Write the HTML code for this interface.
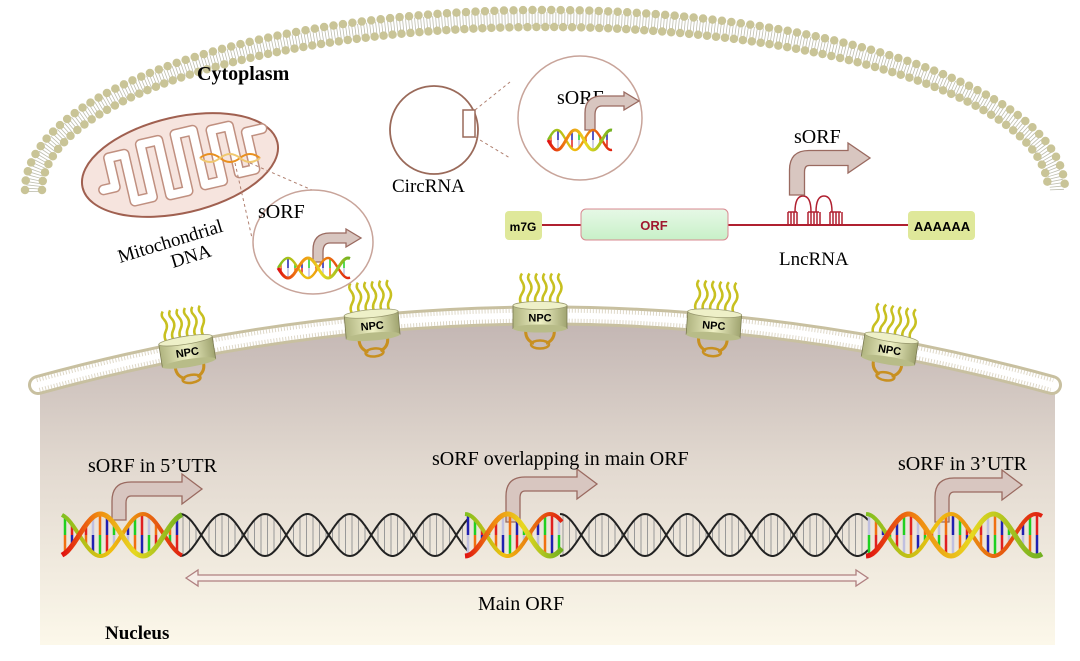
<!DOCTYPE html>
<html><head><meta charset="utf-8"><style>
html,body{margin:0;padding:0;background:#fff}
svg{display:block}
text{font-family:"Liberation Serif",serif}
</style></head><body>
<svg id="s" width="1080" height="661" viewBox="0 0 1080 661" xmlns="http://www.w3.org/2000/svg">
<defs>
<linearGradient id="nuc" x1="0" y1="0" x2="0" y2="1">
<stop offset="0" stop-color="#c3b6b3"/><stop offset="0.45" stop-color="#e2d9d0"/><stop offset="1" stop-color="#fcf8ea"/></linearGradient>
<linearGradient id="dnaG" x1="0" y1="0" x2="1" y2="0">
<stop offset="0" stop-color="#e01010"/><stop offset="0.3" stop-color="#f08a10"/><stop offset="0.6" stop-color="#e8d820"/><stop offset="1" stop-color="#70b020"/></linearGradient>
<linearGradient id="dnaG2" x1="0" y1="0" x2="1" y2="0">
<stop offset="0" stop-color="#80c020"/><stop offset="0.4" stop-color="#f0c010"/><stop offset="1" stop-color="#e02010"/></linearGradient>
<linearGradient id="npcG" x1="0" y1="0" x2="1" y2="0">
<stop offset="0" stop-color="#b0b480"/><stop offset="0.5" stop-color="#eef0c4"/><stop offset="1" stop-color="#a0a470"/></linearGradient>
<linearGradient id="orfG" x1="0" y1="0" x2="0" y2="1">
<stop offset="0" stop-color="#e6f8e6"/><stop offset="1" stop-color="#c8f0c8"/></linearGradient>
</defs>

<!-- cell membrane -->
<g fill="none" stroke-linecap="round">
<path d="M33,192 A512 173 0 0 1 1057,192" stroke="#bdbdae" stroke-width="14" stroke-dasharray="0.8 2.2" stroke-linecap="butt"/>
<path d="M25,190 A520 180 0 0 1 1065,190" stroke="#c9c497" stroke-width="8.5" stroke-dasharray="0 9.5"/>
<path d="M42,190 A503 163 0 0 1 1048,190" stroke="#c9c497" stroke-width="8.5" stroke-dasharray="0 9"/>
</g>

<!-- nucleus -->
<path d="M40,392 Q545,250 1055,392 L1055,645 L40,645 Z" fill="url(#nuc)"/>
<path d="M38,385 Q545,246 1052,385" fill="none" stroke="#c8c0a0" stroke-width="20" stroke-linecap="round"/>
<path d="M38,385 Q545,246 1052,385" fill="none" stroke="#fff" stroke-width="14" stroke-linecap="round"/>
<path d="M38,385 Q545,246 1052,385" fill="none" stroke="#d0c8b0" stroke-width="14" stroke-dasharray="1 2" stroke-opacity="0.7"/>
<path d="M38,385 Q545,246 1052,385" fill="none" stroke="#fff" stroke-width="6" stroke-linecap="round"/>

<g id="npcs"></g>

<text x="197" y="80" font-size="20" font-weight="bold">Cytoplasm</text>

<!-- mitochondria -->
<g transform="rotate(-13 180 165)">
<ellipse cx="180" cy="165" rx="100" ry="48" fill="#f6e4de" stroke="#a06050" stroke-width="2"/>
<path d="M100,172 L112,172 L112,142 L128,142 L128,190 L146,190 L146,136 L164,136 L164,192 L182,192 L182,134 L200,134 L200,190 L218,190 L218,138 L236,138 L236,186 L252,186 L252,148 L268,148" fill="none" stroke="#c09080" stroke-width="11" stroke-linejoin="round" stroke-linecap="round"/>
<path d="M100,172 L112,172 L112,142 L128,142 L128,190 L146,190 L146,136 L164,136 L164,192 L182,192 L182,134 L200,134 L200,190 L218,190 L218,138 L236,138 L236,186 L252,186 L252,148 L268,148" fill="none" stroke="#fff" stroke-width="8" stroke-linejoin="round" stroke-linecap="round"/>
</g>
<path d="M200,158 q10,-8 20,0 t20,0 t20,0" fill="none" stroke="#e89020" stroke-width="2"/>
<path d="M200,158 q10,8 20,0 t20,0 t20,0" fill="none" stroke="#f0c870" stroke-width="2"/>
<line x1="235" y1="163" x2="252" y2="238" stroke="#b08070" stroke-dasharray="3 3"/>
<line x1="250" y1="163" x2="335" y2="200" stroke="#b08070" stroke-dasharray="3 3"/>
<ellipse cx="313" cy="242" rx="60" ry="52" fill="#fff" stroke="#c8a49a" stroke-width="1.5"/>
<text x="258" y="218" font-size="20">sORF</text>
<text transform="translate(120,263) rotate(-17)" font-size="19">Mitochondrial</text>
<text transform="translate(173,268) rotate(-17)" font-size="19">DNA</text>

<!-- circRNA -->
<circle cx="434" cy="130" r="44" fill="none" stroke="#9a6a5a" stroke-width="1.8"/>
<rect x="463" y="110" width="12" height="27" fill="#fff" stroke="#9a6a5a" stroke-width="1.5"/>
<line x1="475" y1="110" x2="510" y2="82" stroke="#b08070" stroke-dasharray="3 3"/>
<line x1="475" y1="137" x2="510" y2="158" stroke="#b08070" stroke-dasharray="3 3"/>
<circle cx="580" cy="118" r="62" fill="#fff" stroke="#c8a49a" stroke-width="1.5"/>
<text x="557" y="104" font-size="20">sORF</text>
<text x="392" y="192" font-size="19">CircRNA</text>

<!-- lncRNA -->
<line x1="540" y1="225" x2="910" y2="225" stroke="#b02030" stroke-width="2"/>
<rect x="505" y="211" width="37" height="29" rx="4" fill="#dfe89a"/>
<text x="523" y="231" font-size="12" font-weight="bold" text-anchor="middle" style="font-family:'Liberation Sans',sans-serif">m7G</text>
<rect x="581" y="209" width="147" height="31" rx="5" fill="url(#orfG)" stroke="#d88890" stroke-width="1"/>
<text x="654" y="230" font-size="13" font-weight="bold" fill="#a01830" text-anchor="middle" style="font-family:'Liberation Sans',sans-serif">ORF</text>
<rect x="908" y="211" width="67" height="29" rx="4" fill="#dfe89a"/>
<text x="942" y="231" font-size="13" font-weight="bold" text-anchor="middle" style="font-family:'Liberation Sans',sans-serif">AAAAAA</text>
<g stroke="#b02030" stroke-width="1.5" fill="none">
<path d="M795,212 q0,-16 8,-16 q8,0 8,16"/>
<path d="M816,212 q0,-16 8,-16 q8,0 8,16"/>
<path d="M788,212 h9 M808,212 h11 M830,212 h11"/>
<path d="M788,212v13M791,212v13M794,212v13M797,212v13M808,212v13M811,212v13M814,212v13M817,212v13M820,212v13M830,212v13M833,212v13M836,212v13M839,212v13M842,212v13"/>
</g>
<text x="794" y="143" font-size="20">sORF</text>
<text x="779" y="265" font-size="19">LncRNA</text>

<g id="arrows"></g>
<g id="dna"></g>

<text x="88" y="472" font-size="20">sORF in 5’UTR</text>
<text x="432" y="465" font-size="20">sORF overlapping in main ORF</text>
<text x="898" y="470" font-size="20">sORF in 3’UTR</text>
<path d="M186,578 l12,-8 v5 h658 v-5 l12,8 l-12,8 v-5 h-658 v5 z" fill="#f6eee8" stroke="#b08080" stroke-width="1.3"/>
<text x="478" y="610" font-size="20">Main ORF</text>
<text x="105" y="639" font-size="19" font-weight="bold">Nucleus</text>
</svg>
<script>
var NS="http://www.w3.org/2000/svg";
function el(t,a,p){var e=document.createElementNS(NS,t);for(var k in a)e.setAttribute(k,a[k]);(p||document.getElementById('s')).appendChild(e);return e;}
function helix(g,x0,x1,cy,A,P,col,ph,sw){
 sw=sw||1;
 var d1="",d2="";
 for(var x=x0;x<=x1;x+=1){var t=(x-x0)/P*2*Math.PI+ph;d1+=(x==x0?"M":"L")+x+","+(cy+A*Math.sin(t)).toFixed(1);d2+=(x==x0?"M":"L")+x+","+(cy-A*Math.sin(t)).toFixed(1);}
 var colors=["#20d020","#2020b0","#f07010","#c0c0e0","#e02020"];
 for(var x=x0+3;x<x1;x+=(col?7:6.5)){var t=(x-x0)/P*2*Math.PI+ph;var y=A*Math.sin(t);if(Math.abs(y)<3)continue;
  if(col){el('line',{x1:x,y1:cy-y,x2:x,y2:cy,stroke:colors[Math.floor(x*7)%5],'stroke-width':2.5*sw},g);el('line',{x1:x,y1:cy,x2:x,y2:cy+y,stroke:colors[(Math.floor(x*7)+2)%5],'stroke-width':2.5*sw},g);}
  else el('line',{x1:x,y1:cy-y,x2:x,y2:cy+y,stroke:'#999','stroke-width':1},g);}
 if(col){el('path',{d:d2,fill:'none',stroke:'url(#dnaG2)','stroke-width':4*sw},g);el('path',{d:d1,fill:'none',stroke:'url(#dnaG)','stroke-width':5*sw},g);}
 else{el('path',{d:d1,fill:'none',stroke:'#222','stroke-width':2},g);el('path',{d:d2,fill:'none',stroke:'#222','stroke-width':2},g);}
}
var g=document.getElementById('dna');
helix(g,180,468,535,21,85,false,Math.PI/2);
helix(g,560,868,535,21,85,false,Math.PI/2);
helix(g,62,182,535,21,85,true,Math.PI/2+0.3);
helix(g,465,562,535,21,85,true,Math.PI/2);
helix(g,866,1042,535,21,85,true,Math.PI/2);
helix(g,278,350,268,10,40,true,0,0.6);
helix(g,548,612,140,10,36,true,0,0.6);
var ag=document.getElementById('arrows');
function barrow(x,yb,yt,xe,w,hh,hl){
 var h=w/2,r=12;
 var d="M"+(x-h)+","+yb+" V"+(yt+r)+" Q"+(x-h)+","+(yt-h)+" "+(x+r)+","+(yt-h)+" H"+xe+" V"+(yt-hh)+" L"+(xe+hl)+","+yt+" L"+xe+","+(yt+hh)+" V"+(yt+h)+" H"+(x+r)+" Q"+(x+h)+","+(yt+h)+" "+(x+h)+","+(yt+r+2)+" V"+yb+" Z";
 el('path',{d:d,fill:'#d8c6c0',stroke:'#9a6a60','stroke-width':1.3},ag);
}
barrow(119,520,489,182,14,15,20);
barrow(513,522,484,577,14,15,20);
barrow(942,522,485,1002,14,15,20);
barrow(797,195,158,848,15,15,22);
barrow(590,130,101,624,10,9,15);
barrow(318,262,238,346,10,9,15);
var ng=document.getElementById('npcs');
function yEnv(x){var t=(x-38)/(1052-38);return 385*(1-t)*(1-t)+2*246*t*(1-t)+385*t*t;}
[187,372,540,714,890].forEach(function(x,i){
 var y=yEnv(x);var rot=[-9,-5,0,4,9][i];
 var G=el('g',{transform:'rotate('+rot+' '+x+' '+y+')'},ng);
 for(var k=0;k<6;k++){var sx=x-18+k*7.5;el('path',{d:'M'+sx+','+(y-10)+' q-4,-6 0,-12 q4,-6 0,-12 q-3,-4 0,-8',fill:'none',stroke:'#c8c020','stroke-width':2.5},G);}
 el('path',{d:'M'+(x-14)+','+(y+12)+' q-2,12 8,16 M'+(x+14)+','+(y+12)+' q2,12 -8,16',fill:'none',stroke:'#c89020','stroke-width':3},G);
 el('ellipse',{cx:x,cy:y+29,rx:9,ry:4,fill:'none',stroke:'#c89020','stroke-width':2.5},G);
 el('rect',{x:x-27,y:y-10,width:54,height:23,fill:'url(#npcG)',stroke:'#7a7a50','stroke-width':0.8},G);
 el('ellipse',{cx:x,cy:y-10,rx:27,ry:4,fill:'#eef0c8',stroke:'#9a9a70','stroke-width':0.8},G);
 el('ellipse',{cx:x,cy:y+13,rx:27,ry:4,fill:'#b8bc88'},G);
 var t=el('text',{x:x,y:y+6,'font-size':11,'font-weight':'bold','text-anchor':'middle',style:"font-family:'Liberation Sans',sans-serif"},G);t.textContent='NPC';
});
</script>
</body></html>
